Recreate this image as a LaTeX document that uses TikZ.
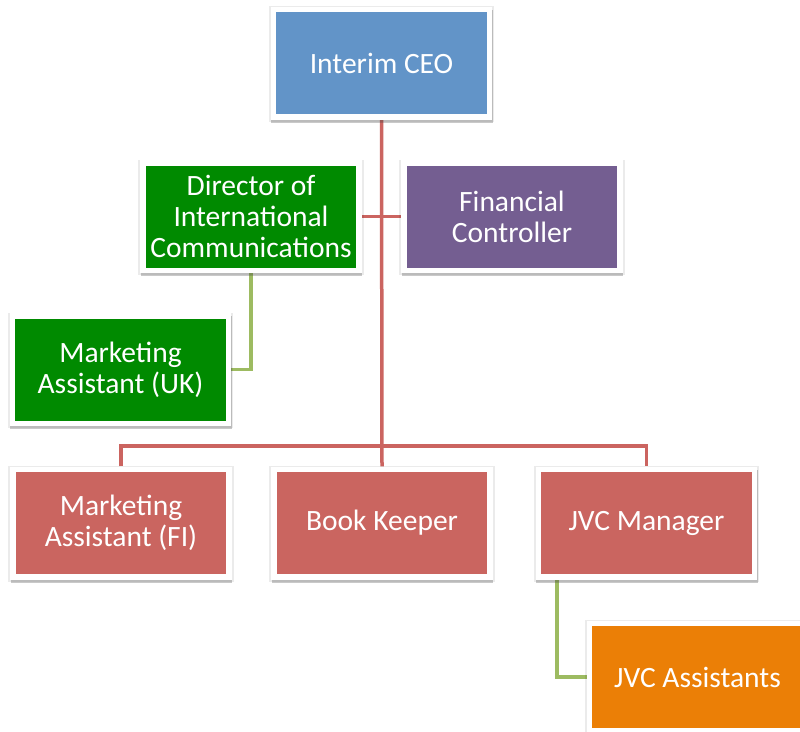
\documentclass[tikz,border=0pt]{standalone}
\usepackage{fontspec}
\setmainfont{Carlito}
\usepackage{xcolor}
\usetikzlibrary{shadows,backgrounds}

\definecolor{ceoblue}{HTML}{6294C8}
\definecolor{dirgreen}{HTML}{008A00}
\definecolor{finpurple}{HTML}{745E91}
\definecolor{staffred}{HTML}{CA6560}
\definecolor{assorange}{HTML}{EB7F06}
\definecolor{linered}{HTML}{CB6460}
\definecolor{linegreen}{HTML}{9DBB61}

\tikzset{
	% white frame with a coloured panel inside
	post/.style={rectangle, fill=white, text=white, align=center,
		minimum width=221.5pt, minimum height=113pt, inner sep=0pt,
		font=\fontsize{29.5}{31}\selectfont,
		path picture={\fill[#1] ([shift={(5.5pt,5.5pt)}]path picture bounding box.south west)
			rectangle ([shift={(-5.5pt,-5.5pt)}]path picture bounding box.north east);},
		general shadow={fill=black, opacity=0.08, shadow scale=1.02, shadow yshift=-1pt},
		drop shadow={shadow xshift=0.5pt, shadow yshift=-3pt, opacity=0.3, fill=black!70}},
	redline/.style={draw=linered, line width=3.5pt},
	greenline/.style={draw=linegreen, line width=3.5pt}
}

\begin{document}
\begin{tikzpicture}[x=1pt, y=-1pt]
	\useasboundingbox (0,0) rectangle (800,731);

	\node[post=ceoblue] (ceo) at (381.5,63) {Interim CEO};
	\node[post=dirgreen] (dir) at (251,216.5) {Director of\\International\\Communications};
	\node[post=finpurple] (fin) at (512,216.5) {Financial\\Controller};
	\node[post=dirgreen] (mauk) at (120.5,369.5) {Marketing\\Assistant (UK)};

	\node[post=staffred] (mafi) at (121,523) {Marketing\\Assistant (FI)};
	\node[post=staffred] (bk) at (382,523) {Book Keeper};
	\node[post=staffred] (jvc) at (646.5,523) {JVC Manager};
	\node[post=assorange] (jvca) at (697.5,677) {JVC Assistants};

	\coordinate (bus) at (382,446);
	\coordinate (jvcdrop) at (557,580);

	\begin{scope}[on background layer]
		\draw[redline] (ceo.south) -- (bk.north);
		\draw[redline] (dir.east) -- (fin.west);
		\draw[redline] (mafi.north) |- (bus) -| (jvc.north);
		\draw[greenline] (dir.south) |- (mauk.east);
		\draw[greenline] (jvcdrop) |- (jvca.west);
	\end{scope}
\end{tikzpicture}
\end{document}
